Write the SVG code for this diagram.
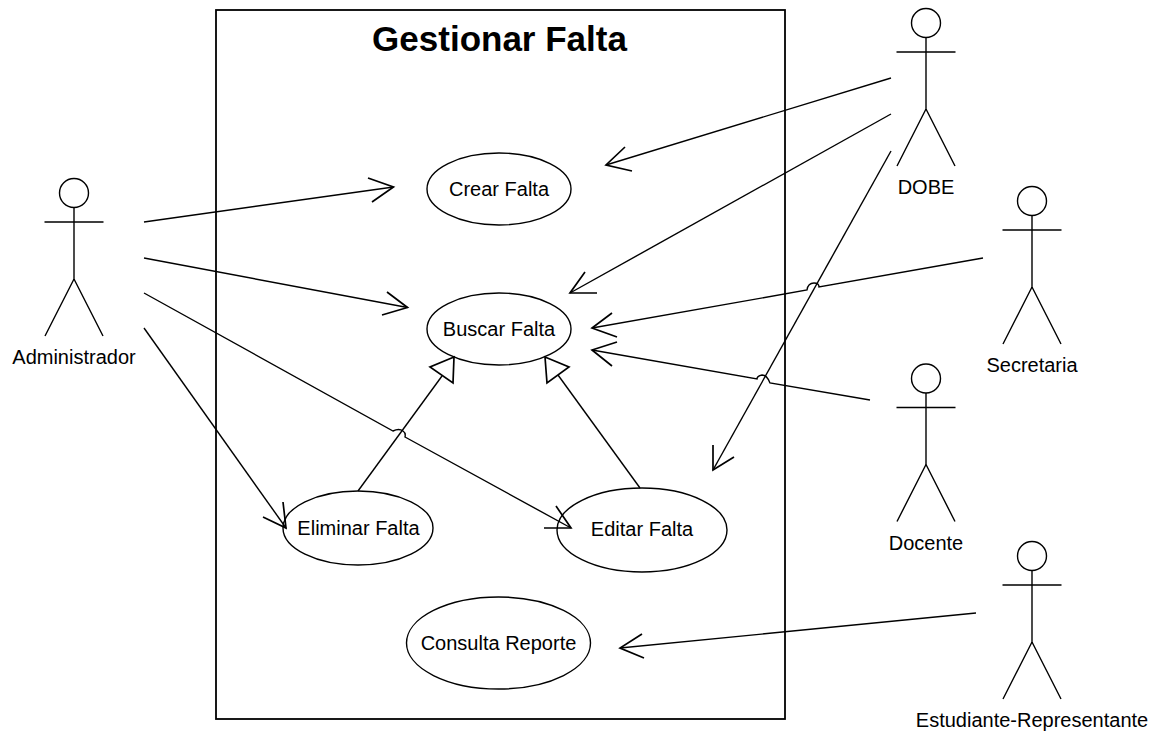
<svg xmlns="http://www.w3.org/2000/svg" width="1159" height="736" viewBox="0 0 1159 736">
<style>
text{font-family:"Liberation Sans",Arial,sans-serif;font-size:20px;fill:#000;text-anchor:middle}
.title{font-size:35px;font-weight:bold}
.s{fill:none;stroke:#000;stroke-width:1.4}
.b{fill:none;stroke:#000;stroke-width:1.7}
.e{fill:#fff;stroke:#000;stroke-width:1.4}
</style>
<defs>
<g id="actor">
<circle class="s" cx="0" cy="0" r="14.5"/>
<path class="s" d="M0 14.500V86M0 86L-29 143M0 86L29 143M-29.500 29H29.500"/>
</g>
</defs>
<g id="system">
<rect x="216" y="10" width="569" height="709" fill="#fff" stroke="#000" stroke-width="1.800"/>
<text class="title" x="499.500" y="50.500">Gestionar Falta</text>
</g>
<g id="uc-crear"><ellipse class="e" cx="499" cy="189" rx="72" ry="36"/><text x="499" y="196">Crear Falta</text></g>
<g id="uc-buscar"><ellipse class="e" cx="499" cy="329" rx="72" ry="36"/><text x="499" y="336">Buscar Falta</text></g>
<g id="uc-eliminar"><ellipse class="e" cx="358" cy="528" rx="75" ry="37"/><text x="358.500" y="535">Eliminar Falta</text></g>
<g id="uc-editar"><ellipse class="e" cx="642" cy="530" rx="85" ry="42"/><text x="642" y="536">Editar Falta</text></g>
<g id="uc-consulta"><ellipse class="e" cx="498.500" cy="643" rx="92" ry="46"/><text x="498.500" y="650">Consulta Reporte</text></g>
<g id="connectors">
<path class="s" d="M144 222L393.500 187"/><path class="b" d="M368 178L393.500 187L372 202"/>
<path class="s" d="M144 258L407.500 307.500"/><path class="b" d="M387 292L407.500 307.500L382 315"/>
<path class="s" d="M144 293L393 431Q399 428 403 431Q406 433 405 437L571 528"/><path class="b" d="M556 506L571 528L544 528"/>
<path class="s" d="M144 328L286 528"/><path class="b" d="M283 502L286 528L263 517"/>
<path class="s" d="M891 78L606 165"/><path class="b" d="M625 147L606 165L632 171"/>
<path class="s" d="M891 114L570 293"/><path class="b" d="M585 272L570 293L597 293"/>
<path class="s" d="M891 151L713 470"/><path class="b" d="M713 445L713 470L734 457"/>
<path class="s" d="M983 258L819 287Q819 283 814 283Q808 283 807 290L592 328"/><path class="b" d="M612 313L592 328L617 337"/>
<path class="s" d="M870 400L770 383Q767 375 762 375Q757 376 757 379L592 350"/><path class="b" d="M617 342L592 350L612 366"/>
<path class="s" d="M976 613L620 648"/><path class="b" d="M642 634L620 648L644 658"/>
<path class="s" d="M358 491L442 376"/><path class="b" d="M454 357L430 367L453 383Z"/>
<path class="s" d="M640 488L558 375"/><path class="b" d="M545 357L547 383L569 367Z"/>
</g>
<g id="actor-administrador"><use href="#actor" x="74" y="193"/><text x="74" y="364">Administrador</text></g>
<g id="actor-dobe"><use href="#actor" x="926" y="23"/><text x="926" y="194">DOBE</text></g>
<g id="actor-secretaria"><use href="#actor" x="1032" y="201"/><text x="1032" y="372">Secretaria</text></g>
<g id="actor-docente"><use href="#actor" x="926" y="378.500"/><text x="926" y="550">Docente</text></g>
<g id="actor-estudiante"><use href="#actor" x="1032" y="556"/><text x="1032" y="727">Estudiante-Representante</text></g>
</svg>
